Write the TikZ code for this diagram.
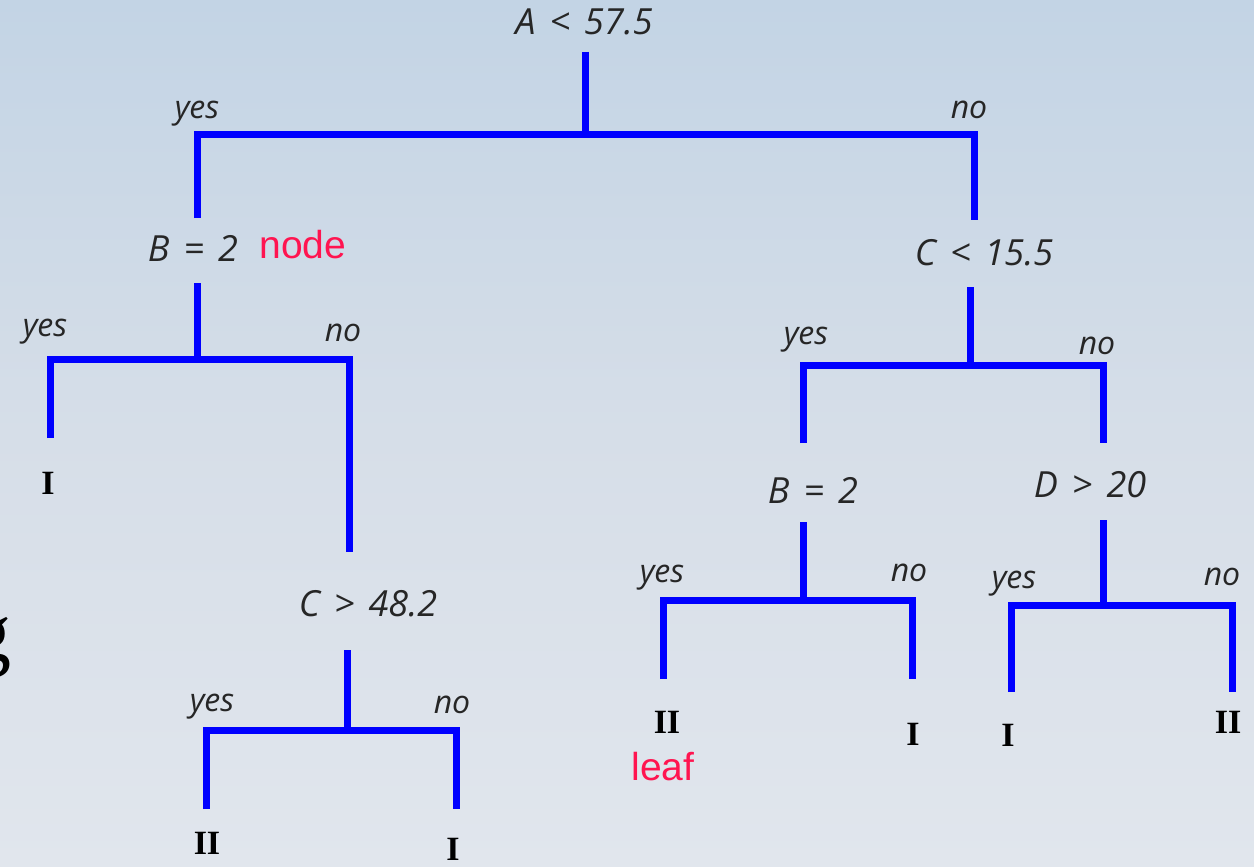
\documentclass[tikz,border=0pt]{standalone}
\usepackage{fontspec}
\setmainfont{Liberation Serif}
\newfontfamily\handfont[WordSpace=1.5]{Open Sans}
\newfontfamily\labelfont{Liberation Sans}
\definecolor{bgtop}{RGB}{195,212,229}
\definecolor{bgmid}{RGB}{214,222,232}
\definecolor{bgbot}{RGB}{225,230,237}
\definecolor{branchblue}{RGB}{0,0,255}
\definecolor{notered}{RGB}{255,20,80}
\tikzset{
  branch/.style={draw=branchblue, line width=7pt, line join=miter, line cap=butt},
  test/.style={font=\handfont\itshape\fontsize{36}{36}\selectfont, text=black!85, inner sep=0pt},
  answer/.style={font=\handfont\itshape\fontsize{32}{32}\selectfont, text=black!85, inner sep=0pt},
  leafclass/.style={font=\bfseries\fontsize{34}{34}\selectfont, inner sep=0pt},
  remark/.style={font=\labelfont\fontsize{39}{39}\selectfont, text=notered, inner sep=0pt}
}
\begin{document}
\begin{tikzpicture}[x=1pt,y=-1pt]
  % background
  \shade[top color=bgtop, bottom color=bgbot, middle color=bgmid] (0,0) rectangle (1254,867);
  \useasboundingbox (0,0) rectangle (1254,867);
  \begin{scope}
    \clip (0,0) rectangle (1254,867);
    \node[font=\fontsize{84}{84}\selectfont, anchor=base east, inner sep=0pt] (gfrag) at (12,660) {g};
  \end{scope}

  % tests
  \node[test] (root) at (584,22) {A < 57.5};
  \node[test] (b2l)  at (193,248) {B = 2};
  \node[test] (c48)  at (368,604) {C > 48.2};
  \node[test] (c15)  at (984,253) {C < 15.5};
  \node[test] (b2r)  at (813,490) {B = 2};
  \node[test] (d20)  at (1090,485) {D > 20};

  % leaves
  \node[leafclass] (l1) at (48,483)  {I};
  \node[leafclass] (l2) at (207,843) {II};
  \node[leafclass] (l3) at (453,849) {I};
  \node[leafclass] (l4) at (667,722) {II};
  \node[leafclass] (l5) at (913,734) {I};
  \node[leafclass] (l6) at (1008,735) {I};
  \node[leafclass] (l7) at (1228,722) {II};

  % annotations
  \node[remark] (nodelabel) at (303,245) {node};
  \node[remark] (leaflabel) at (663,767) {leaf};

  % branch end points
  \coordinate (root-t) at (585,52);   \coordinate (root-j) at (585,134);
  \coordinate (root-l) at (197,218);  \coordinate (root-r) at (974,220);
  \coordinate (b2l-t) at (197,283);   \coordinate (b2l-j) at (197,359);
  \coordinate (b2l-l) at (50,438);    \coordinate (b2l-r) at (349,552);
  \coordinate (c48-t) at (347,650);   \coordinate (c48-j) at (347,730);
  \coordinate (c48-l) at (206,809);   \coordinate (c48-r) at (456,809);
  \coordinate (c15-t) at (970,287);   \coordinate (c15-j) at (970,365);
  \coordinate (c15-l) at (803,443);   \coordinate (c15-r) at (1103,443);
  \coordinate (b2r-t) at (803,522);   \coordinate (b2r-j) at (803,600);
  \coordinate (b2r-l) at (663,679);   \coordinate (b2r-r) at (912,679);
  \coordinate (d20-t) at (1103,520);  \coordinate (d20-j) at (1103,605);
  \coordinate (d20-l) at (1011,692);  \coordinate (d20-r) at (1232,692);

  \foreach \n in {root,b2l,c48,c15,b2r,d20}{
    \draw[branch] (\n-t) -- (\n-j);
    \draw[branch] (\n-l) -- (\n-l |- \n-j) -- (\n-r |- \n-j) -- (\n-r);
  }

  % yes / no answers
  \node[answer] (ya) at (197,114) {yes};   \node[answer] (na) at (969,110) {no};
  \node[answer] (yb) at (45,332)  {yes};   \node[answer] (nb) at (343,333) {no};
  \node[answer] (yc) at (212,707) {yes};   \node[answer] (nc) at (452,705) {no};
  \node[answer] (yd) at (806,340) {yes};   \node[answer] (nd) at (1097,346) {no};
  \node[answer] (ye) at (662,578) {yes};   \node[answer] (ne) at (909,573) {no};
  \node[answer] (yf) at (1014,584) {yes};  \node[answer] (nf) at (1222,577) {no};
\end{tikzpicture}
\end{document}
